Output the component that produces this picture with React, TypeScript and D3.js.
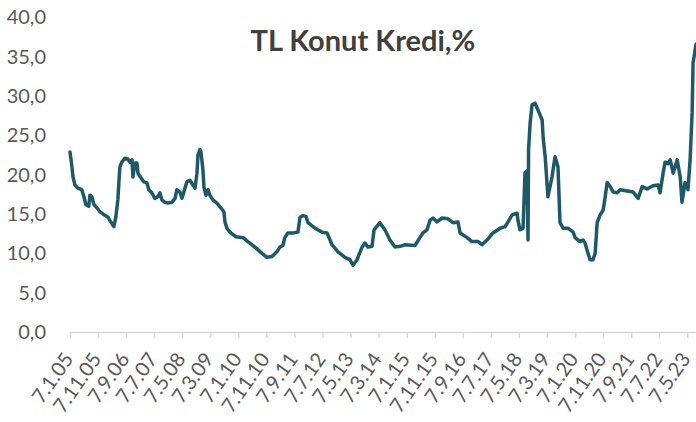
import { useRef, useEffect } from 'react';
import * as d3 from 'd3';

// weekly TL housing loan rate
const rateDates = [
    '2005-01-07', '2005-01-28', '2005-02-09', '2005-03-01', '2005-04-01', '2005-05-15', '2005-06-07', '2005-06-28',
    '2005-07-30', '2005-08-11', '2005-09-01', '2005-09-24', '2005-10-26', '2005-11-28', '2006-01-11', '2006-02-23',
    '2006-03-15', '2006-04-17', '2006-04-28', '2006-05-19', '2006-06-10', '2006-06-21', '2006-07-02', '2006-07-23',
    '2006-08-25', '2006-09-27', '2006-10-19', '2006-11-10', '2006-11-21', '2006-12-12', '2007-01-03', '2007-01-14',
    '2007-02-16', '2007-03-18', '2007-04-20', '2007-05-12', '2007-06-14', '2007-07-16', '2007-08-18', '2007-09-09',
    '2007-10-01', '2007-11-03', '2007-12-05', '2008-01-18', '2008-02-20', '2008-03-11', '2008-04-13', '2008-05-05',
    '2008-05-26', '2008-06-28', '2008-07-30', '2008-09-01', '2008-09-24', '2008-10-15', '2008-10-26', '2008-11-17',
    '2008-11-28', '2008-12-19', '2008-12-30', '2009-01-21', '2009-02-13', '2009-03-04', '2009-04-06', '2009-05-19',
    '2009-07-01', '2009-08-03', '2009-08-15', '2009-09-05', '2009-10-08', '2009-12-12', '2010-02-27', '2010-04-10',
    '2010-05-12', '2010-07-16', '2010-09-20', '2010-11-14', '2011-01-07', '2011-03-01', '2011-04-03', '2011-05-05',
    '2011-05-26', '2011-06-28', '2011-08-22', '2011-10-15', '2011-11-07', '2011-12-09', '2012-01-11', '2012-02-02',
    '2012-04-17', '2012-07-02', '2012-08-26', '2012-10-19', '2012-12-23', '2013-03-08', '2013-05-01', '2013-06-03',
    '2013-07-17', '2013-09-10', '2013-10-12', '2013-11-14', '2013-12-27', '2014-01-18', '2014-03-22', '2014-05-16',
    '2014-07-09', '2014-09-02', '2014-10-27', '2014-12-20', '2015-04-07', '2015-05-30', '2015-07-02', '2015-08-15',
    '2015-09-17', '2015-10-19', '2015-12-02', '2016-01-26', '2016-03-30', '2016-05-23', '2016-07-16', '2016-08-08',
    '2016-10-23', '2016-12-16', '2017-02-20', '2017-04-03', '2017-05-27', '2017-07-31', '2017-10-16', '2017-12-09',
    '2018-01-20', '2018-02-24', '2018-04-18', '2018-04-28', '2018-05-20', '2018-06-22', '2018-07-13', '2018-08-04',
    '2018-08-15', '2018-08-21', '2018-09-07', '2018-09-28', '2018-10-30', '2018-12-02', '2019-01-15', '2019-01-26',
    '2019-02-17', '2019-03-19', '2019-05-02', '2019-06-04', '2019-07-06', '2019-07-28', '2019-08-30', '2019-10-23',
    '2019-12-17', '2020-01-08', '2020-03-01', '2020-04-03', '2020-04-25', '2020-05-27', '2020-06-18', '2020-07-20',
    '2020-08-12', '2020-09-03', '2020-10-05', '2020-11-07', '2020-11-29', '2020-12-20', '2021-01-22', '2021-02-24',
    '2021-04-07', '2021-05-09', '2021-09-28', '2021-11-22', '2022-01-04', '2022-02-28', '2022-05-02', '2022-06-26',
    '2022-07-17', '2022-08-19', '2022-09-10', '2022-10-13', '2022-11-04', '2022-12-06', '2023-01-19', '2023-02-21',
    '2023-03-12', '2023-04-14', '2023-05-16', '2023-06-08', '2023-06-30', '2023-07-10', '2023-08-11',
];

const rateValues = [
    22.9, 21.0, 19.7, 18.7, 18.3, 18.1, 17.2, 16.2,
    16.0, 17.4, 17.2, 16.2, 15.8, 15.3, 14.9, 14.6,
    14.2, 13.6, 13.4, 14.6, 16.8, 19.0, 21.0, 21.6,
    22.1, 22.0, 21.6, 21.9, 19.7, 21.5, 21.5, 20.2,
    19.6, 19.1, 19.0, 18.1, 17.7, 17.0, 17.2, 17.7,
    16.8, 16.5, 16.4, 16.5, 17.0, 18.1, 17.8, 17.0,
    17.8, 19.1, 19.3, 18.7, 18.3, 20.2, 22.5, 23.2,
    22.9, 20.6, 18.4, 17.4, 18.1, 17.4, 16.8, 16.4,
    15.8, 15.3, 14.0, 13.2, 12.7, 12.1, 12.0, 11.6,
    11.3, 10.7, 10.0, 9.5, 9.6, 10.2, 10.8, 11.0,
    12.0, 12.6, 12.6, 12.7, 14.6, 14.8, 14.7, 13.9,
    13.2, 12.7, 12.6, 11.1, 10.2, 9.5, 9.2, 8.5,
    9.2, 10.8, 11.3, 10.8, 10.9, 13.0, 13.9, 13.0,
    11.7, 10.8, 10.9, 11.1, 11.0, 12.0, 12.6, 13.0,
    14.2, 14.5, 14.0, 14.5, 14.4, 13.9, 14.0, 12.6,
    12.0, 11.5, 11.5, 11.1, 11.7, 12.6, 13.2, 13.4,
    14.2, 14.9, 15.1, 14.2, 13.0, 13.2, 20.2, 20.5,
    11.7, 23.2, 26.6, 28.9, 29.1, 28.2, 27.0, 24.7,
    22.3, 17.2, 19.7, 22.3, 21.0, 13.9, 13.2, 13.2,
    12.7, 12.0, 11.5, 11.7, 11.3, 10.0, 9.2, 9.2,
    10.0, 13.9, 14.9, 15.5, 17.2, 19.0, 18.5, 17.8,
    17.7, 18.1, 17.8, 17.0, 18.5, 18.2, 18.6, 18.7,
    17.7, 20.2, 21.6, 21.4, 21.9, 20.2, 21.9, 19.7,
    16.5, 19.0, 18.1, 21.9, 27.9, 34.2, 36.6,
];

const xTickLabels = [
    '7.1.05', '7.11.05', '7.9.06', '7.7.07', '7.5.08', '7.3.09', '7.1.10', '7.11.10',
    '7.9.11', '7.7.12', '7.5.13', '7.3.14', '7.1.15', '7.11.15', '7.9.16', '7.7.17',
    '7.5.18', '7.3.19', '7.1.20', '7.11.20', '7.9.21', '7.7.22', '7.5.23',
];

const yTicks = [0, 5, 10, 15, 20, 25, 30, 35, 40];

export default function App() {
    const svgRef = useRef<SVGSVGElement>(null);

    useEffect(() => {
        if (!svgRef.current) return;

        const width = 696;
        const height = 422;
        const left = 70;
        const right = 696;
        const bottom = 332;
        const top = 17.5;

        const parseIso = d3.timeParse('%Y-%m-%d');
        const parseTick = d3.timeParse('%d.%m.%y');
        const data = rateDates.map((d, i) => ({ date: parseIso(d) as Date, value: rateValues[i] }));
        const tickDates = xTickLabels.map(l => parseTick(l) as Date);

        const svg = d3.select(svgRef.current);
        svg.selectAll('*').remove();
        svg.attr('width', width).attr('height', height);

        const x = d3.scaleTime()
            .domain([tickDates[0], parseIso('2023-08-11') as Date])
            .range([left, right]);

        const y = d3.scaleLinear().domain([0, 40]).range([bottom, top]);

        const font = 'Lato, "Open Sans", sans-serif';

        // Title
        svg.append('text')
            .attr('x', 363)
            .attr('y', 51)
            .attr('text-anchor', 'middle')
            .attr('font-family', font)
            .attr('font-size', '29px')
            .attr('font-weight', '700')
            .attr('fill', '#404040')
            .text('TL Konut Kredi,%');

        // Y-axis labels (no axis line)
        const yAxis = d3.axisLeft(y)
            .tickValues(yTicks)
            .tickSize(0)
            .tickPadding(0)
            .tickFormat(d => d3.format('.1f')(d as number).replace('.', ','));

        const yg = svg.append('g')
            .attr('transform', `translate(46,0)`)
            .call(yAxis);
        yg.select('.domain').remove();
        yg.selectAll('text')
            .attr('font-family', font)
            .attr('font-size', '20px')
            .attr('fill', '#595959');

        // X-axis
        const xAxis = d3.axisBottom(x)
            .tickValues(tickDates)
            .tickSize(6)
            .tickSizeOuter(0)
            .tickFormat((_, i) => xTickLabels[i]);

        const xg = svg.append('g')
            .attr('transform', `translate(0,${bottom})`)
            .call(xAxis);
        xg.select('.domain').attr('stroke', '#d9d9d9').attr('stroke-width', 1.5);
        xg.selectAll('.tick line').attr('stroke', '#d9d9d9').attr('stroke-width', 1.5);
        xg.selectAll('.tick text')
            .attr('font-family', font)
            .attr('font-size', '20px')
            .attr('fill', '#595959')
            .attr('text-anchor', 'end')
            .attr('y', 0)
            .attr('dy', '0.35em')
            .attr('transform', 'translate(-2,23) rotate(-55)');

        // Line
        const line = d3.line<{ date: Date; value: number }>()
            .x(d => x(d.date))
            .y(d => y(d.value));

        svg.append('path')
            .datum(data)
            .attr('d', line)
            .attr('fill', 'none')
            .attr('stroke', '#1f5968')
            .attr('stroke-width', 3.5)
            .attr('stroke-linejoin', 'round')
            .attr('stroke-linecap', 'round');
    }, []);

    return (
        <div style={{ position: 'absolute', left: 0, top: 0, background: '#fff' }}>
            <svg ref={svgRef} style={{ display: 'block' }} />
        </div>
    );
}
